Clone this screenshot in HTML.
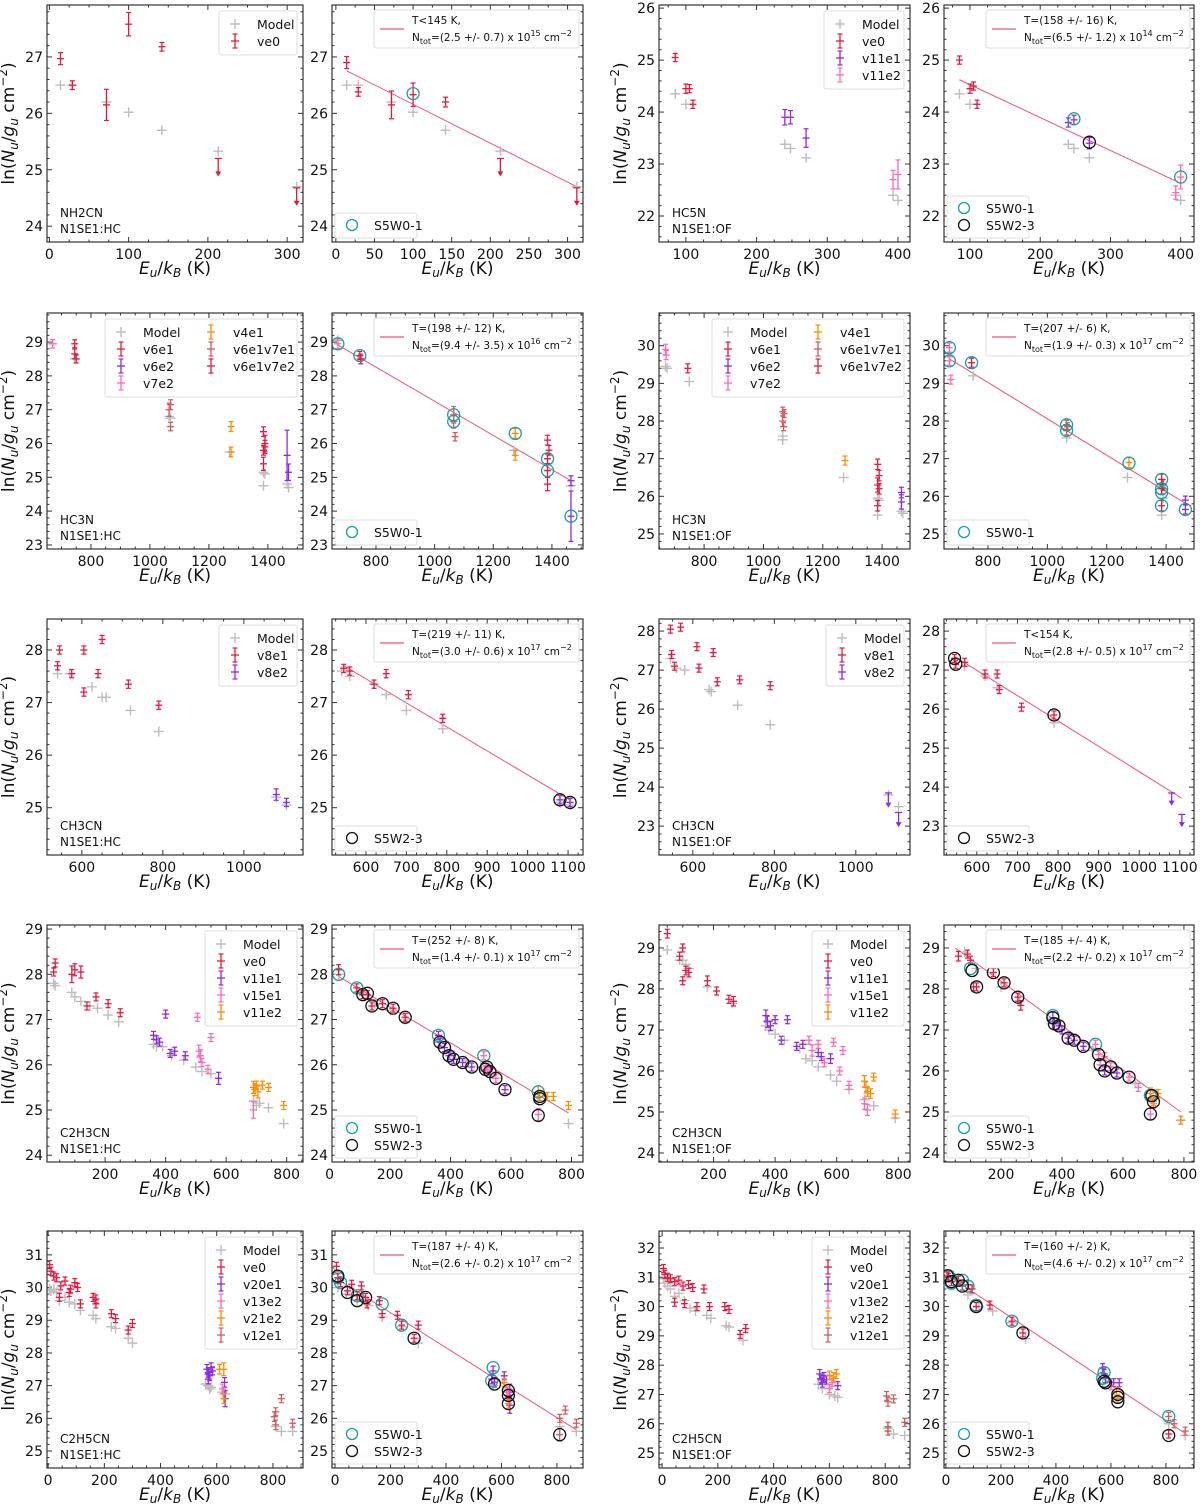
<!DOCTYPE html>
<html><head><meta charset="utf-8"><style>
body{margin:0;background:#fff}
svg{display:block;font-family:"DejaVu Sans","Liberation Sans",sans-serif}
</style></head><body>
<svg id="fig" width="1200" height="1506" viewBox="0 0 1200 1506"></svg>
<script>
// ---------- DATA ----------
const p1Model=[[14,26.5],[29,26.5],[72,26.2],[100,26.02],[142,25.7],[213,25.33],[312,24.7]];
const p1Ve0=[[14,26.97,.08],[29,26.5,.05],[72,26.15,.25],[100,27.58,.18],[142,27.18,.05],[213,25.2,-.3],[312,24.68,-.3]];
const p2Ve0=[[14,26.9,.08],[29,26.38,.05],[72,26.15,.22],[100,26.33,.18],[142,26.2,.06],[213,25.2,-.3],[312,24.68,-.3]];
const p2Teal=[[100,26.35]];
const p3Model=[[85,24.35],[100,24.15],[240,23.38],[248,23.3],[270,23.12],[393,22.4],[400,22.3]];
const p3Ve0=[[85,25.05,.05],[100,24.45,.06],[105,24.45,.05],[110,24.15,.05]];
const p3V11e1=[[240,23.9,.12],[248,23.9,.1],[270,23.5,.15]];
const p3V11e2=[[393,22.7,.15],[400,22.8,.25]];
const p4Ve0=[[85,25.0,.05],[100,24.45,.06],[105,24.5,.05],[110,24.15,.05]];
const p4V11e1=[[240,23.8,.06],[248,23.85,.06],[270,23.4,.08]];
const p4V11e2=[[393,22.45,.1],[400,22.75,.2]];
const p4Teal=[[248,23.87],[400,22.75]];
const p4Black=[[270,23.42]];
const p5Model=[[670,28.95],[745,28.5],[1065,26.8],[1070,26.75],[1270,25.75],[1385,25.15],[1390,25.1],[1385,24.75],[1465,24.8],[1470,24.7]];
const p5V6e1=[[745,28.95,.05],[745,28.65,.1],[750,28.5,.05]];
const p5V6e2=[[1465,25.65,.7],[1470,25.15,.2]];
const p5V7e2=[[670,28.95,.08],[1065,27.7,.1]];
const p5V4e1=[[1275,26.5,.1],[1275,25.75,.1]];
const p5V6e1v7e1=[[1065,27.0,.15],[1070,27.15,.1],[1070,26.5,.08]];
const p5V6e1v7e2=[[1385,26.35,.1],[1390,25.9,.15],[1385,25.4,.15],[1390,26.0,.2],[1385,25.8,.1]];
const p6Model=[[670,29.05],[750,28.5],[1270,25.8],[1385,25.4],[1465,24.75]];
const p6V6e1=[[745,28.6,.08],[748,28.5,.1]];
const p6V6e2=[[1465,24.9,.1],[1465,23.85,.7]];
const p6V7e2=[[670,28.95,.1]];
const p6V4e1=[[1275,26.3,.1],[1275,25.65,.1]];
const p6V6e1v7e1=[[1065,26.85,.2],[1065,26.65,.15],[1070,26.2,.08]];
const p6V6e1v7e2=[[1385,26.1,.1],[1390,25.8,.1],[1385,25.55,.1],[1385,25.2,.15],[1385,24.8,.15]];
const p6Teal=[[670,28.95],[745,28.6],[1065,26.85],[1065,26.65],[1275,26.3],[1385,25.55],[1385,25.2],[1465,23.85]];
const p7Model=[[670,29.45],[675,29.4],[750,29.05],[1065,27.6],[1065,27.5],[1270,26.5],[1385,25.95],[1390,25.9],[1385,25.5],[1465,25.6],[1470,25.55]];
const p7V6e1=[[745,29.4,.08]];
const p7V6e2=[[1465,26.1,.1],[1465,25.85,.15]];
const p7V7e2=[[670,29.9,.1],[672,29.75,.08]];
const p7V4e1=[[1275,26.95,.08]];
const p7V6e1v7e1=[[1065,28.25,.08],[1065,28.0,.1],[1070,28.2,.05],[1068,27.85,.05]];
const p7V6e1v7e2=[[1385,26.85,.1],[1390,26.55,.1],[1385,26.3,.15],[1385,25.75,.1],[1390,26.2,.1]];
const p8Model=[[670,29.7],[750,29.2],[1065,27.55],[1270,26.5],[1385,25.5],[1390,25.95]];
const p8V6e1=[[745,29.55,.08]];
const p8V6e2=[[1465,25.9,.05],[1465,25.65,.08]];
const p8V7e2=[[670,29.95,.08],[670,29.6,.08],[675,29.1,.08]];
const p8V4e1=[[1275,26.9,.1]];
const p8V6e1v7e1=[[1065,27.9,.08],[1065,27.75,.08],[1068,27.85,.05]];
const p8V6e1v7e2=[[1385,26.45,.1],[1385,26.2,.1],[1385,25.75,.1],[1390,26.3,.1]];
const p8Teal=[[670,29.95],[670,29.6],[745,29.55],[1065,27.9],[1065,27.75],[1275,26.88],[1385,26.45],[1385,26.2],[1385,26.1],[1385,25.75],[1465,25.65]];
const p9Model=[[540,27.55],[570,27.55],[625,27.3],[650,27.1],[660,27.1],[720,26.85],[790,26.45],[1080,25.2],[1105,25.05]];
const p9V8e1=[[540,27.7,.05],[545,28.0,.05],[575,27.55,.05],[605,27.2,.05],[605,28.0,.05],[640,27.55,.05],[650,28.2,.05],[715,27.35,.05],[790,26.95,.05]];
const p9V8e2=[[1080,25.25,.08],[1105,25.1,.05]];
const p10Model=[[540,27.6],[560,27.5],[620,27.35],[650,27.15],[700,26.85],[790,26.5],[1080,25.1],[1105,25.05]];
const p10V8e1=[[545,27.65,.05],[560,27.6,.05],[620,27.35,.05],[650,27.55,.05],[705,27.15,.05],[790,26.7,.05]];
const p10V8e2=[[1080,25.15,.05],[1105,25.1,.05]];
const p10Black=[[1080,25.15],[1105,25.1]];
const p11Model=[[545,27.3],[560,27.05],[580,27.0],[640,26.5],[645,26.45],[710,26.1],[790,25.6],[1080,23.8],[1105,23.5]];
const p11V8e1=[[545,28.05,.05],[548,27.4,.05],[555,27.1,.05],[570,28.1,.05],[610,27.6,.05],[615,27.05,.05],[650,27.45,.05],[660,26.7,.05],[715,26.75,.05],[790,26.6,.05]];
const p11V8e2=[[1080,23.85,-.35],[1105,23.35,-.35]];
const p12Model=[[545,27.2],[570,27.1],[620,26.85],[650,26.55],[790,25.65]];
const p12V8e1=[[545,27.3,.05],[548,27.15,.05],[570,27.2,.05],[620,26.9,.05],[650,26.9,.05],[655,26.5,.05],[710,26.05,.05],[790,25.85,.05]];
const p12V8e2=[[1080,23.85,-.3],[1105,23.3,-.3]];
const p12Black=[[545,27.3],[548,27.15],[790,25.85]];
const p13Model=[[30,27.8],[35,27.75],[90,27.6],[100,27.5],[120,27.4],[150,27.3],[175,27.25],[210,27.1],[245,26.95],[360,26.45],[370,26.4],[390,26.4],[420,26.2],[460,26.1],[500,25.95],[520,25.85],[550,25.8],[690,25.2],[700,25.1],[710,25.15],[740,25.05],[790,24.7]];
const p13Ve0=[[30,28.05,.05],[35,28.25,.05],[90,28.0,.15],[100,28.1,.1],[120,28.05,.1],[140,27.3,.05],[170,27.5,.05],[210,27.35,.05],[250,27.15,.05]];
const p13V11e1=[[360,26.65,.05],[370,26.55,.05],[380,26.5,.05],[400,27.12,.04],[415,26.25,.05],[430,26.3,.05],[465,26.2,.05],[575,25.7,.1]];
const p13V15e1=[[505,27.05,.05],[510,26.3,.1],[515,26.2,.1],[520,26.05,.05],[540,25.9,.05],[550,26.6,.05],[690,25.0,.15]];
const p13V11e2=[[690,25.5,.1],[695,25.45,.1],[700,25.55,.05],[705,25.4,.1],[720,25.55,.05],[740,25.5,.05],[790,25.1,.05]];
const p14Model=[[30,28.0],[100,27.6],[150,27.35],[200,27.2],[250,27.0],[360,26.5],[400,26.3],[450,26.1],[500,25.95],[550,25.7],[690,25.2],[790,24.7]];
const p14Ve0=[[30,28.1,.08],[90,27.7,.05],[110,27.55,.05],[125,27.55,.05],[140,27.3,.05],[175,27.35,.05],[210,27.25,.05],[250,27.05,.05]];
const p14V11e1=[[360,26.65,.05],[365,26.5,.05],[380,26.38,.05],[395,26.2,.05],[410,26.12,.05],[440,26.05,.05],[470,25.95,.05],[580,25.45,.05]];
const p14V15e1=[[510,26.2,.05],[515,25.9,.05],[520,25.95,.05],[530,25.85,.05],[550,25.7,.05],[690,24.9,.1]];
const p14V11e2=[[690,25.4,.1],[695,25.3,.05],[720,25.3,.05],[740,25.3,.05],[790,25.1,.05]];
const p14Teal=[[30,28.0],[90,27.7],[360,26.65],[510,26.2],[690,25.4]];
const p14Black=[[110,27.55],[125,27.58],[140,27.3],[175,27.35],[210,27.25],[250,27.05],[365,26.5],[380,26.38],[395,26.2],[410,26.12],[440,26.05],[470,25.95],[515,25.9],[520,25.95],[530,25.85],[550,25.7],[580,25.45],[690,24.88],[695,25.3],[695,25.25]];
const p15Model=[[50,28.95],[90,28.7],[100,28.7],[110,28.6],[120,28.5],[180,28.05],[260,27.65],[370,27.1],[380,27.0],[400,26.9],[430,26.75],[480,26.55],[500,26.3],[520,26.25],[540,26.1],[580,25.9],[600,25.75],[640,25.55],[690,25.3],[720,25.15],[790,24.85]];
const p15Ve0=[[50,29.35,.07],[90,28.8,.06],[100,29.0,.05],[100,28.2,.05],[110,28.45,.07],[120,28.4,.07],[180,28.2,.08],[210,27.95,.05],[250,27.75,.05],[265,27.7,.08]];
const p15V11e1=[[370,27.35,.1],[375,27.2,.1],[385,27.1,.08],[400,27.25,.05],[420,26.75,.05],[440,27.25,.05],[470,26.6,.05],[490,26.65,.05],[540,26.45,.05],[550,26.35,.05],[580,26.3,.08]];
const p15V15e1=[[510,26.75,.05],[520,26.5,.1],[540,26.65,.05],[560,26.2,.05],[590,26.7,.05],[610,26.0,.05],[620,26.5,.05],[640,25.65,.05],[690,25.2,.1],[700,25.05,.1]];
const p15V11e2=[[690,25.75,.1],[695,25.6,.1],[700,25.5,.08],[710,25.45,.08],[720,25.85,.05],[790,24.95,.05]];
const p16Model=[[80,28.9],[120,28.5],[200,28.05],[260,27.7],[370,27.15],[420,26.9],[500,26.5],[560,26.2],[640,25.7],[690,25.35],[790,24.8]];
const p16Ve0=[[60,28.8,.08],[90,28.85,.05],[100,28.7,.05],[110,28.05,.05],[120,28.05,.05],[175,28.4,.05],[210,28.15,.05],[255,27.8,.05],[265,27.6,.08]];
const p16V11e1=[[370,27.3,.1],[375,27.15,.1],[390,27.1,.05],[400,27.0,.05],[420,26.8,.05],[440,26.75,.05],[470,26.6,.05],[540,26.0,.05],[580,25.95,.05]];
const p16V15e1=[[510,26.65,.05],[520,26.4,.05],[525,26.15,.05],[540,26.35,.05],[560,26.1,.05],[620,25.85,.05],[650,25.6,.05],[690,24.95,.1],[700,25.2,.05]];
const p16V11e2=[[690,25.45,.1],[700,25.25,.05],[715,25.45,.05],[790,24.8,.05]];
const p16Teal=[[100,28.5],[370,27.35],[510,26.65],[690,25.4]];
const p16Black=[[105,28.45],[120,28.05],[175,28.4],[210,28.15],[255,27.8],[370,27.3],[375,27.15],[390,27.1],[420,26.8],[440,26.75],[470,26.6],[520,26.4],[525,26.15],[540,26.0],[560,26.1],[580,25.95],[620,25.85],[690,24.95],[700,25.25],[695,25.4]];
const p17Model=[[5,29.95],[10,29.9],[20,29.95],[30,29.85],[40,29.6],[60,29.7],[75,29.55],[95,29.5],[115,29.3],[160,29.15],[170,29.05],[225,28.8],[240,28.75],[285,28.45],[300,28.3],[560,27.05],[570,27.0],[575,26.9],[580,26.95],[620,26.8],[630,26.75],[810,25.75],[830,25.6],[870,25.6]];
const p17Ve0=[[5,30.7,.06],[10,30.5,.06],[20,30.35,.05],[30,30.3,.05],[40,29.7,.05],[45,30.05,.05],[60,30.2,.05],[75,29.85,.05],[80,29.95,.05],[95,30.15,.05],[105,30.0,.05],[115,29.5,.05],[160,29.7,.05],[170,29.65,.05],[170,29.5,.05],[225,29.2,.05],[240,29.05,.05],[285,28.7,.05],[300,28.9,.05]];
const p17V20e1=[[565,27.5,.1],[570,27.4,.1],[575,27.3,.1],[580,27.55,.1],[570,27.2,.1],[585,27.45,.05],[628,27.1,.1],[630,26.6,.2]];
const p17V13e2=[[620,26.9,.1],[625,26.75,.1]];
const p17V21e2=[[610,27.5,.1],[625,27.5,.15],[625,26.6,.1]];
const p17V12e1=[[805,26.05,.1],[810,26.2,.05],[810,25.8,.1],[830,26.6,.05],[870,25.85,.05]];
const p18Model=[[10,30.0],[40,29.8],[80,29.6],[120,29.45],[170,29.1],[240,28.8],[300,28.3],[570,27.0],[620,26.9],[810,25.75],[870,25.6]];
const p18Ve0=[[5,30.65,.05],[10,30.3,.05],[20,30.15,.05],[45,29.9,.05],[60,30.1,.05],[80,29.75,.05],[95,30.05,.05],[110,29.7,.05],[115,29.5,.05],[160,29.6,.05],[170,29.2,.05],[225,29.15,.05],[240,28.85,.05],[285,28.45,.05],[300,28.85,.05]];
const p18V20e1=[[565,27.2,.1],[570,27.45,.1],[575,27.1,.1],[610,27.3,.05],[630,26.8,.2],[630,26.4,.2]];
const p18V13e2=[[620,26.8,.1],[625,26.7,.1]];
const p18V21e2=[[610,27.1,.05],[625,26.45,.1]];
const p18V12e1=[[810,26.0,.05],[810,25.5,.15],[830,26.25,.05],[870,25.85,.05]];
const p18Teal=[[10,30.3],[20,30.15],[80,29.75],[170,29.5],[240,28.85],[570,27.55],[565,27.15]];
const p18Black=[[10,30.35],[45,29.85],[80,29.6],[110,29.7],[285,28.45],[575,27.05],[625,26.85],[625,26.7],[625,26.45],[810,25.5]];
const p19Model=[[5,30.95],[10,30.8],[20,30.7],[30,30.6],[45,30.35],[60,30.45],[80,30.2],[100,29.95],[120,29.85],[160,29.7],[175,29.6],[230,29.35],[240,29.3],[290,28.85],[560,27.35],[575,27.2],[600,27.0],[620,26.95],[630,26.9],[810,25.85],[830,25.65],[870,25.6]];
const p19Ve0=[[5,31.3,.05],[10,31.1,.05],[20,31.0,.05],[30,30.95,.05],[45,30.85,.05],[60,30.9,.05],[75,30.7,.05],[80,30.1,.05],[95,30.75,.05],[110,30.65,.05],[125,30.0,.05],[150,30.6,.05],[170,30.0,.05],[225,30.0,.05],[240,29.9,.05],[280,29.05,.05],[300,29.25,.05],[45,30.15,.05]];
const p19V20e1=[[565,27.7,.1],[570,27.5,.1],[575,27.4,.1],[580,27.6,.1],[590,27.5,.1],[630,27.3,.05]];
const p19V13e2=[[600,27.2,.05],[610,27.4,.05]];
const p19V21e2=[[600,27.65,.1],[615,27.6,.1],[625,27.7,.1]];
const p19V12e1=[[805,26.95,.1],[810,26.75,.1],[810,25.9,.1],[830,26.85,.05],[870,26.05,.05],[810,25.75,.05]];
const p20Model=[[10,31.0],[40,30.85],[80,30.4],[120,30.0],[170,29.85],[240,29.45],[290,28.9],[570,27.4],[620,26.9],[810,26.0],[870,25.6]];
const p20Ve0=[[5,31.05,.05],[10,31.0,.05],[20,30.85,.05],[45,30.9,.05],[60,30.7,.05],[80,30.75,.05],[95,30.6,.05],[110,30.0,.05],[160,30.05,.05],[240,29.5,.05],[280,29.1,.05],[810,25.65,.05]];
const p20V20e1=[[570,27.9,.1],[575,27.7,.1],[580,27.55,.1],[610,27.4,.05],[630,27.4,.05]];
const p20V13e2=[[600,27.3,.05]];
const p20V21e2=[[620,27.1,.05],[625,26.85,.05]];
const p20V12e1=[[810,26.25,.05],[830,26.0,.05],[870,25.75,.05]];
const p20Teal=[[10,31.05],[20,30.8],[60,30.9],[80,30.7],[110,30.05],[240,29.5],[575,27.75],[570,27.55],[810,26.25]];
const p20Black=[[5,31.05],[20,30.85],[45,30.9],[60,30.7],[110,30.0],[280,29.1],[575,27.45],[580,27.4],[625,27.0],[625,26.9],[625,26.75],[810,25.6]];
const fitT=[145,158,198,207,219,154,252,185,187,160];
const fitA=[26.85,25.16,32.30,32.89,30.19,30.89,28.07,29.27,30.30,31.11];
const fitRange=[[14,312],[85,400],[670,1465],[670,1465],[545,1105],[545,1105],[30,790],[50,790],[10,870],[10,870]];
const fitLabel1=["T<145 K,","T=(158 +/- 16) K,","T=(198 +/- 12) K,","T=(207 +/- 6) K,","T=(219 +/- 11) K,","T<154 K,","T=(252 +/- 8) K,","T=(185 +/- 4) K,","T=(187 +/- 4) K,","T=(160 +/- 2) K,"];
const fitN=["(2.5 +/- 0.7) x 10","(6.5 +/- 1.2) x 10","(9.4 +/- 3.5) x 10","(1.9 +/- 0.3) x 10","(3.0 +/- 0.6) x 10","(2.8 +/- 0.5) x 10","(1.4 +/- 0.1) x 10","(2.2 +/- 0.2) x 10","(2.6 +/- 0.2) x 10","(4.6 +/- 0.2) x 10"];
const fitExp=["15","14","16","17","17","17","17","17","17","17"];

const C={ve0:'#e5183f',pur:'#8a2be2',pink:'#ff69b4',org:'#ff8c00',ind:'#cd5c5c',model:'#bdbdbd',teal:'#1a9e9e'};
const colX=[[47,303],[332,583],[659,910],[944,1194]];
const rowY=[[5,242],[313,549],[619,855],[925,1162],[1231,1468]];
const NS='http://www.w3.org/2000/svg';
const svg=document.getElementById('fig');
function mk(tag,attrs,parent){const e=document.createElementNS(NS,tag);for(const k in attrs)e.setAttribute(k,attrs[k]);(parent||svg).appendChild(e);return e;}

const rows=[
 {mol:'NH2CN',src:'HC',xr:[[-3,320],[-5,320]],yr:[23.72,27.92],yt:[24,25,26,27],ym:0.2,xt:[[0,100,200,300],[0,50,100,150,200,250,300]],xm:[25,25]},
 {mol:'HC5N',src:'OF',xr:[[62,417],[63,419]],yr:[21.5,26.06],yt:[22,23,24,25,26],ym:0.2,xt:[[100,200,300,400],[100,200,300,400]],xm:[25,25]},
 {mol:'HC3N',src:'HC',xr:[[651,1519],[650,1506]],yr:[22.88,29.86],yt:[23,24,25,26,27,28,29],ym:0.2,xt:[[800,1000,1200,1400],[800,1000,1200,1400]],xm:[50,50]},
 {mol:'HC3N',src:'OF',xr:[[648,1494],[652,1494]],yr:[24.6,30.87],yt:[25,26,27,28,29,30],ym:0.2,xt:[[800,1000,1200,1400],[800,1000,1200,1400]],xm:[50,50]},
 {mol:'CH3CN',src:'HC',xr:[[514,1146],[516,1137]],yr:[24.1,28.59],yt:[25,26,27,28],ym:0.2,xt:[[600,800,1000],[600,700,800,900,1000,1100]],xm:[50,25]},
 {mol:'CH3CN',src:'OF',xr:[[517,1133],[519,1135]],yr:[22.26,28.31],yt:[23,24,25,26,27,28],ym:0.2,xt:[[600,800,1000],[600,700,800,900,1000,1100]],xm:[50,25]},
 {mol:'C2H3CN',src:'HC',xr:[[8,854],[8,838]],yr:[23.85,29.09],yt:[24,25,26,27,28,29],ym:0.2,xt:[[200,400,600,800],[0,200,400,600,800]],xm:[50,50]},
 {mol:'C2H3CN',src:'OF',xr:[[23,838],[13,833]],yr:[23.78,29.56],yt:[24,25,26,27,28,29],ym:0.2,xt:[[200,400,600,800],[200,400,600,800]],xm:[50,50]},
 {mol:'C2H5CN',src:'HC',xr:[[-4,907],[-11,894]],yr:[24.48,31.73],yt:[25,26,27,28,29,30,31],ym:0.2,xt:[[0,200,400,600,800],[0,200,400,600,800]],xm:[50,50]},
 {mol:'C2H5CN',src:'OF',xr:[[-11,889],[-7,902]],yr:[24.49,32.58],yt:[25,26,27,28,29,30,31,32],ym:0.2,xt:[[0,200,400,600,800],[0,200,400,600,800]],xm:[50,50]}
];
const S=[
 [[['ve0',C.ve0,p1Ve0]],p1Model,[['ve0',C.ve0,p2Ve0]],p1Model,p2Teal,null],
 [[['ve0',C.ve0,p3Ve0],['v11e1',C.pur,p3V11e1],['v11e2',C.pink,p3V11e2]],p3Model,[['ve0',C.ve0,p4Ve0],['v11e1',C.pur,p4V11e1],['v11e2',C.pink,p4V11e2]],p3Model,p4Teal,p4Black],
 [[['v6e1',C.ve0,p5V6e1],['v6e2',C.pur,p5V6e2],['v7e2',C.pink,p5V7e2],['v4e1',C.org,p5V4e1],['v6e1v7e1',C.ind,p5V6e1v7e1],['v6e1v7e2',C.ve0,p5V6e1v7e2]],p5Model,[['v6e1',C.ve0,p6V6e1],['v6e2',C.pur,p6V6e2],['v7e2',C.pink,p6V7e2],['v4e1',C.org,p6V4e1],['v6e1v7e1',C.ind,p6V6e1v7e1],['v6e1v7e2',C.ve0,p6V6e1v7e2]],p6Model,p6Teal,null],
 [[['v6e1',C.ve0,p7V6e1],['v6e2',C.pur,p7V6e2],['v7e2',C.pink,p7V7e2],['v4e1',C.org,p7V4e1],['v6e1v7e1',C.ind,p7V6e1v7e1],['v6e1v7e2',C.ve0,p7V6e1v7e2]],p7Model,[['v6e1',C.ve0,p8V6e1],['v6e2',C.pur,p8V6e2],['v7e2',C.pink,p8V7e2],['v4e1',C.org,p8V4e1],['v6e1v7e1',C.ind,p8V6e1v7e1],['v6e1v7e2',C.ve0,p8V6e1v7e2]],p8Model,p8Teal,null],
 [[['v8e1',C.ve0,p9V8e1],['v8e2',C.pur,p9V8e2]],p9Model,[['v8e1',C.ve0,p10V8e1],['v8e2',C.pur,p10V8e2]],p10Model,null,p10Black],
 [[['v8e1',C.ve0,p11V8e1],['v8e2',C.pur,p11V8e2]],p11Model,[['v8e1',C.ve0,p12V8e1],['v8e2',C.pur,p12V8e2]],p12Model,null,p12Black],
 [[['ve0',C.ve0,p13Ve0],['v11e1',C.pur,p13V11e1],['v15e1',C.pink,p13V15e1],['v11e2',C.org,p13V11e2]],p13Model,[['ve0',C.ve0,p14Ve0],['v11e1',C.pur,p14V11e1],['v15e1',C.pink,p14V15e1],['v11e2',C.org,p14V11e2]],p14Model,p14Teal,p14Black],
 [[['ve0',C.ve0,p15Ve0],['v11e1',C.pur,p15V11e1],['v15e1',C.pink,p15V15e1],['v11e2',C.org,p15V11e2]],p15Model,[['ve0',C.ve0,p16Ve0],['v11e1',C.pur,p16V11e1],['v15e1',C.pink,p16V15e1],['v11e2',C.org,p16V11e2]],p16Model,p16Teal,p16Black],
 [[['ve0',C.ve0,p17Ve0],['v20e1',C.pur,p17V20e1],['v13e2',C.pink,p17V13e2],['v21e2',C.org,p17V21e2],['v12e1',C.ind,p17V12e1]],p17Model,[['ve0',C.ve0,p18Ve0],['v20e1',C.pur,p18V20e1],['v13e2',C.pink,p18V13e2],['v21e2',C.org,p18V21e2],['v12e1',C.ind,p18V12e1]],p18Model,p18Teal,p18Black],
 [[['ve0',C.ve0,p19Ve0],['v20e1',C.pur,p19V20e1],['v13e2',C.pink,p19V13e2],['v21e2',C.org,p19V21e2],['v12e1',C.ind,p19V12e1]],p19Model,[['ve0',C.ve0,p20Ve0],['v20e1',C.pur,p20V20e1],['v13e2',C.pink,p20V13e2],['v21e2',C.org,p20V21e2],['v12e1',C.ind,p20V12e1]],p20Model,p20Teal,p20Black]
];

function plus(g,x,y,col,h,w){mk('line',{x1:x-h,x2:x+h,y1:y,y2:y,stroke:col,'stroke-width':w},g);mk('line',{x1:x,x2:x,y1:y-h,y2:y+h,stroke:col,'stroke-width':w},g);}
function errPt(g,x,y,e,col,sy){
  const yy=sy(y);
  mk('line',{x1:x-3.5,x2:x+3.5,y1:yy,y2:yy,stroke:col,'stroke-width':1.3},g);
  if(e<0){const y2=sy(y+e);mk('line',{x1:x,x2:x,y1:yy,y2:y2,stroke:col,'stroke-width':1.3},g);
    mk('path',{d:`M${x-3},${y2-4}L${x+3},${y2-4}L${x},${y2+1}Z`,fill:col},g);}
  else{const a=sy(y+e)-1.5,b=sy(y-e)+1.5;mk('line',{x1:x,x2:x,y1:Math.min(a,yy-4),y2:Math.max(b,yy+4),stroke:col,'stroke-width':1.3},g);
    mk('line',{x1:x-2.5,x2:x+2.5,y1:Math.min(a,yy-4),y2:Math.min(a,yy-4),stroke:col,'stroke-width':1.2},g);
    mk('line',{x1:x-2.5,x2:x+2.5,y1:Math.max(b,yy+4),y2:Math.max(b,yy+4),stroke:col,'stroke-width':1.2},g);}
}
function errIcon(g,x,y,col){mk('line',{x1:x-4,x2:x+4,y1:y,y2:y,stroke:col,'stroke-width':1.3},g);mk('line',{x1:x,x2:x,y1:y-7,y2:y+7,stroke:col,'stroke-width':1.3},g);mk('line',{x1:x-2.5,x2:x+2.5,y1:y-7,y2:y-7,stroke:col,'stroke-width':1.2},g);mk('line',{x1:x-2.5,x2:x+2.5,y1:y+7,y2:y+7,stroke:col,'stroke-width':1.2},g);}
function txt(g,x,y,s,size,anchor,extra){const t=mk('text',Object.assign({x:x,y:y,'font-size':size,'text-anchor':anchor||'start',fill:'#111'},extra||{}),g);t.textContent=s;return t;}

rows.forEach((R,ri)=>{
  for(let side=0;side<2;side++){
    const ci=(ri%2)*2+side, pr=Math.floor(ri/2);
    const [L,Rt]=colX[ci],[T,B]=rowY[pr];
    const [x0,x1]=R.xr[side],[y0,y1]=R.yr;
    const sx=v=>L+(v-x0)/(x1-x0)*(Rt-L), sy=v=>B-(v-y0)/(y1-y0)*(B-T);
    const g=mk('g',{});
    
    
    const clipId=`c${ri}_${side}`;
    const cp=mk('clipPath',{id:clipId},g);mk('rect',{x:L,y:T,width:Rt-L,height:B-T},cp);
    const ax=mk('g',{stroke:'#333','stroke-width':1},g);
    
    
    const xt=R.xt[side], xm=R.xm[side];
    for(let v=Math.ceil(x0/xm)*xm;v<=x1;v+=xm){const X=sx(v);const len=xt.includes(v)?5:2.5;
      mk('line',{x1:X,x2:X,y1:B,y2:B-len},ax);mk('line',{x1:X,x2:X,y1:T,y2:T+len},ax);}
    for(let v=Math.ceil(y0/R.ym)*R.ym;v<=y1;v+=R.ym){const Y=sy(v);const len=R.yt.some(t=>Math.abs(t-v)<1e-6)?5:2.5;
      mk('line',{x1:L,x2:L+len,y1:Y,y2:Y},ax);mk('line',{x1:Rt,x2:Rt-len,y1:Y,y2:Y},ax);}
    xt.forEach(v=>{const t=txt(g,sx(v),B+17,String(v),14,'middle');});
    R.yt.forEach(v=>{const t=txt(g,L-4,sy(v)+5,String(v),14,'end');});
    const xtl=mk('text',{x:(L+Rt)/2,y:B+32,'font-size':17,'text-anchor':'middle',fill:'#111'},g);
    xtl.innerHTML='<tspan font-style="italic">E</tspan><tspan font-style="italic" font-size="12" dy="3">u</tspan><tspan dy="-3">/</tspan><tspan font-style="italic">k</tspan><tspan font-style="italic" font-size="12" dy="3">B</tspan><tspan dy="-3"> (K)</tspan>';
    
    
    if(side===0){
      const cx=L-33, cy=(T+B)/2;
      const ytl=mk('text',{x:cx,y:cy,'font-size':17,'text-anchor':'middle',fill:'#111',transform:`rotate(-90 ${cx} ${cy})`},g);
      ytl.innerHTML='ln(<tspan font-style="italic">N</tspan><tspan font-style="italic" font-size="12" dy="4">u</tspan><tspan dy="-4">/</tspan><tspan font-style="italic">g</tspan><tspan font-style="italic" font-size="12" dy="4">u</tspan><tspan dy="-4"> cm</tspan><tspan font-size="12" dy="-7">−2</tspan><tspan dy="7">)</tspan>';
      
      
    }
    const plot=mk('g',{'clip-path':`url(#${clipId})`},g);
    const sset=S[ri], ser=side?sset[2]:sset[0], model=side?sset[3]:sset[1];
    if(side){const [fa,fb]=fitRange[ri];const fl=mk('line',{x1:sx(fa),y1:sy(fitA[ri]-fa/fitT[ri]),x2:sx(fb),y2:sy(fitA[ri]-fb/fitT[ri]),stroke:'#ee5577','stroke-width':1},plot);
      
      }
    const mg=mk('g',{},plot);
    
    
    model.forEach(p=>plus(mg,sx(p[0]),sy(p[1]),C.model,5,1.4));
    ser.forEach(s=>{const sg=mk('g',{},plot);
      
      
      s[2].forEach(p=>errPt(sg,sx(p[0]),p[1],p[2],s[1],sy));});
    if(side){
      [[sset[4],C.teal,'circles-s5w0-1'],[sset[5],'#111','circles-s5w2-3']].forEach(c=>{if(!c[0])return;const cg=mk('g',{},plot);
        
        
        c[0].forEach(p=>mk('circle',{cx:sx(p[0]),cy:sy(p[1]),r:6,fill:'none',stroke:c[1],'stroke-width':1.3},cg));});
    }
    mk('rect',{x:L,y:T,width:Rt-L,height:B-T,fill:'none',stroke:'#333','stroke-width':1.2},g);
    if(side===0){
      const lab=mk('g',{},g);
      
      
      txt(lab,L+13,B-25,R.mol,12);txt(lab,L+13,B-9,'N1SE1:'+R.src,12);
      const lg=mk('g',{},g);
      
      
      const items=[['Model',null]].concat(ser.map(s=>[s[0],s[1]]));
      const twoCol=items.length===7;
      const nrow=twoCol?4:items.length, colW=twoCol?90:0;
      const w=twoCol?192:(items.length>4?92:(items.length>3?80:78));
      const x0l=Rt-w-6, y0l=T+6, h=nrow*17+10;
      mk('rect',{x:x0l,y:y0l,width:w,height:h,fill:'#fff',stroke:'#ddd','stroke-width':1,rx:2},lg);
      items.forEach((it,i)=>{const c=twoCol?Math.floor(i/4):0,r=twoCol?i%4:i;const ix=x0l+16+c*colW,iy=y0l+13+r*17;
        if(it[1])errIcon(lg,ix,iy,it[1]);else plus(lg,ix,iy,C.model,5,1.4);
        txt(lg,ix+22,iy+5,it[0],12.5);});
    } else {
      const lg=mk('g',{},g);
      
      
      const lx=L+42;
      mk('rect',{x:lx,y:T+5,width:Rt-lx-4,height:38,fill:'#fff',stroke:'#ddd','stroke-width':1,rx:2},lg);
      mk('line',{x1:lx+6,x2:lx+30,y1:T+24,y2:T+24,stroke:'#ee5577','stroke-width':1.2},lg);
      txt(lg,lx+38,T+19,fitLabel1[ri],10.5);
      const t2=mk('text',{x:lx+38,y:T+36,'font-size':10.5,fill:'#111'},lg);
      t2.innerHTML='N<tspan font-size="8" dy="3">tot</tspan><tspan dy="-3">='+fitN[ri]+'</tspan><tspan font-size="8" dy="-5">'+fitExp[ri]+'</tspan><tspan dy="5"> cm</tspan><tspan font-size="8" dy="-5">−2</tspan>';
      const circ=[[sset[4],C.teal,'S5W0-1'],[sset[5],'#111','S5W2-3']].filter(c=>c[0]);
      const cl=mk('g',{},g);
      
      
      const h=circ.length*17+8;
      mk('rect',{x:L+3,y:B-h-4,width:82,height:h,fill:'#fff',stroke:'#ddd','stroke-width':1,rx:2},cl);
      circ.forEach((c,i)=>{const iy=B-h-4+12+i*17;mk('circle',{cx:L+20,cy:iy,r:5.5,fill:'none',stroke:c[1],'stroke-width':1.3},cl);txt(cl,L+42,iy+5,c[2],12.5);});
    }
  }
});
</script>
</body></html>
